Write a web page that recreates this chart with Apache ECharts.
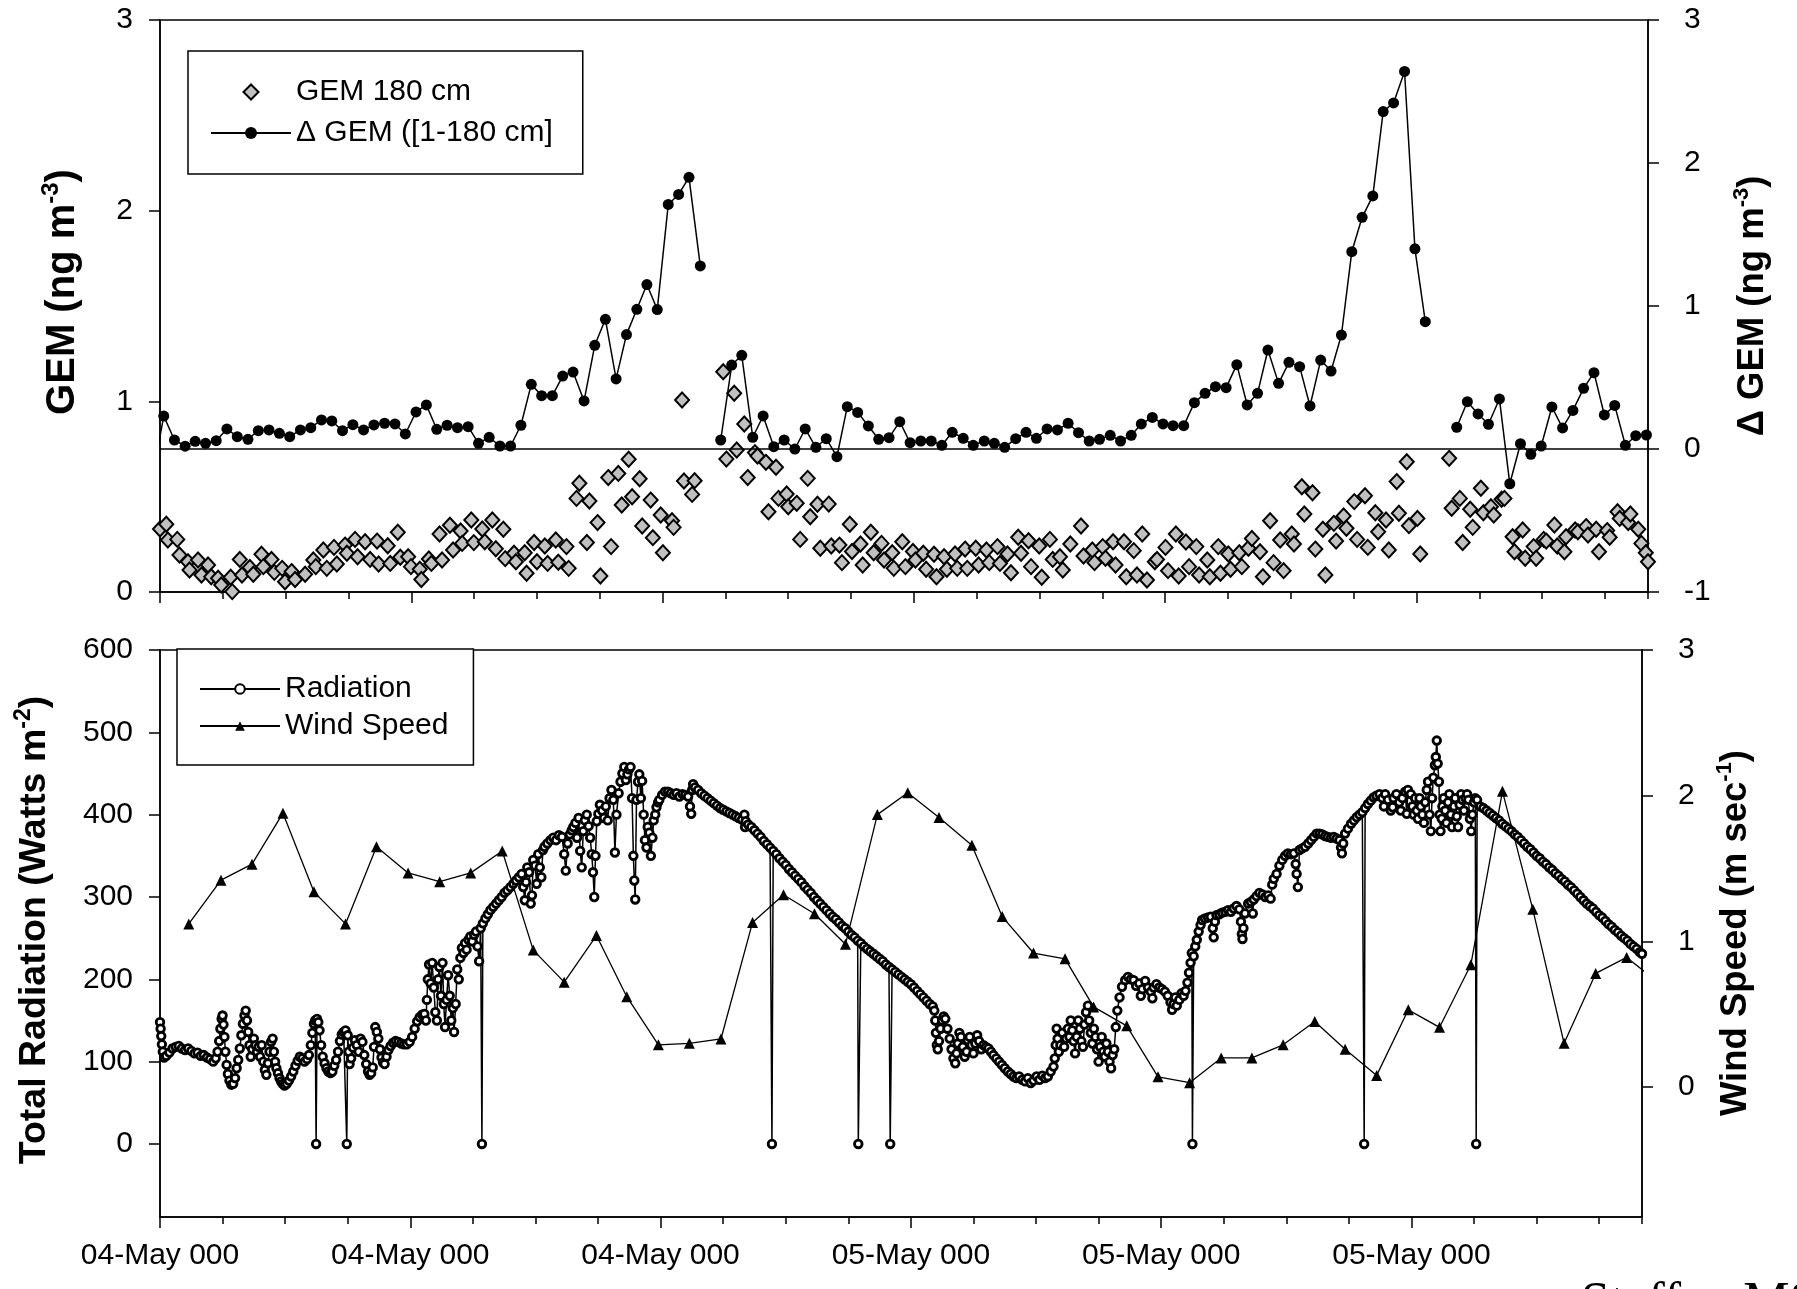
<!DOCTYPE html>
<html><head><meta charset="utf-8">
<script src="https://cdn.jsdelivr.net/npm/echarts@6/dist/echarts.min.js"></script>
<style>html,body{margin:0;padding:0;background:#fff}#c{width:1797px;height:1289px}</style>
</head><body><div id="c"></div><script>
const FONT = '"Liberation Sans", Arial, Helvetica, sans-serif';

// ---- axis ticks / labels ----
const xTickHours = [0, 8, 16, 24, 32, 40];
const xTickLabels = ['04-May 000', '04-May 000', '04-May 000', '05-May 000', '05-May 000', '05-May 000'];
const gemTicks = [0, 1, 2, 3];
const deltaTicks = [-1, 0, 1, 2, 3];
const radTicks = [0, 100, 200, 300, 400, 500, 600];
const windTicks = [0, 1, 2, 3];

// ---- series data: [hours since 04-May 00:00, value] ----
const gem180 = [
[0.0,0.33],[0.2,0.355],[0.25,0.273],[0.55,0.276],[0.62,0.194],[0.89,0.159],[0.94,0.115],[1.21,0.168],[1.32,0.089],[1.53,0.142],[1.63,0.08],[1.85,0.072],[1.95,0.037],[2.25,0.077],[2.3,0.002],[2.54,0.171],[2.61,0.089],[2.86,0.129],[2.97,0.093],[3.23,0.198],[3.29,0.133],[3.55,0.171],[3.64,0.103],[3.89,0.124],[3.98,0.054],[4.19,0.107],[4.3,0.066],[4.62,0.093],[4.88,0.168],[4.96,0.133],[5.2,0.22],[5.31,0.124],[5.54,0.234],[5.63,0.147],[5.89,0.246],[5.95,0.203],[6.21,0.276],[6.29,0.185],[6.53,0.264],[6.69,0.171],[6.91,0.267],[6.96,0.147],[7.25,0.243],[7.33,0.15],[7.57,0.313],[7.65,0.182],[7.9,0.185],[7.99,0.133],[8.27,0.119],[8.32,0.066],[8.56,0.173],[8.64,0.15],[8.9,0.304],[8.98,0.168],[9.23,0.35],[9.33,0.22],[9.57,0.32],[9.62,0.255],[9.91,0.378],[9.99,0.259],[10.26,0.33],[10.34,0.264],[10.58,0.378],[10.69,0.227],[10.93,0.329],[10.99,0.175],[11.27,0.203],[11.33,0.159],[11.61,0.206],[11.67,0.098],[11.91,0.26],[12.0,0.159],[12.25,0.241],[12.34,0.15],[12.6,0.273],[12.68,0.156],[12.94,0.238],[13.01,0.124],[13.26,0.491],[13.35,0.57],[13.59,0.26],[13.67,0.477],[13.93,0.364],[14.02,0.084],[14.27,0.6],[14.36,0.238],[14.59,0.622],[14.7,0.456],[14.92,0.696],[15.03,0.5],[15.27,0.594],[15.35,0.346],[15.62,0.482],[15.69,0.285],[15.94,0.404],[16.01,0.206],[16.3,0.374],[16.35,0.339],[16.62,1.007],[16.68,0.582],[16.94,0.512],[17.02,0.584],
[17.93,1.155],[18.03,0.697],[18.28,1.042],[18.36,0.745],[18.6,0.881],[18.71,0.6],[18.94,0.731],[19.02,0.713],[19.29,0.68],[19.37,0.421],[19.61,0.654],[19.69,0.491],[19.95,0.514],[20.0,0.447],[20.27,0.465],[20.38,0.276],[20.62,0.596],[20.7,0.395],[20.93,0.46],[21.02,0.229],[21.29,0.461],[21.37,0.241],[21.63,0.246],[21.71,0.154],[21.96,0.355],[22.03,0.212],[22.3,0.252],[22.37,0.142],[22.63,0.313],[22.72,0.206],[22.97,0.255],[23.05,0.168],[23.31,0.206],[23.36,0.124],[23.63,0.264],[23.73,0.133],[23.97,0.212],[24.05,0.168],[24.3,0.203],[24.39,0.119],[24.64,0.198],[24.72,0.08],[24.96,0.185],[25.05,0.119],[25.31,0.199],[25.38,0.124],[25.63,0.225],[25.7,0.124],[25.97,0.229],[26.06,0.142],[26.31,0.22],[26.4,0.154],[26.66,0.238],[26.74,0.15],[26.98,0.199],[27.09,0.101],[27.32,0.287],[27.41,0.203],[27.65,0.269],[27.73,0.133],[27.99,0.241],[28.07,0.077],[28.33,0.276],[28.42,0.171],[28.65,0.185],[28.74,0.115],[28.98,0.252],[29.32,0.346],[29.4,0.189],[29.68,0.22],[29.75,0.154],[30.01,0.238],[30.1,0.177],[30.34,0.264],[30.42,0.142],[30.69,0.264],[30.76,0.08],[31.0,0.217],[31.1,0.089],[31.27,0.304],
[31.42,0.063],[31.67,0.159],[31.74,0.171],[32.01,0.234],[32.09,0.112],[32.34,0.304],[32.43,0.084],[32.66,0.262],[32.76,0.133],[32.99,0.238],[33.08,0.089],[33.34,0.168],[33.42,0.08],[33.69,0.238],[33.76,0.098],[34.01,0.199],[34.08,0.119],[34.36,0.206],[34.44,0.133],[34.65,0.229],[34.76,0.281],[35.02,0.211],[35.11,0.08],[35.34,0.374],[35.45,0.154],[35.66,0.273],[35.77,0.112],[36.03,0.304],[36.1,0.252],[36.35,0.552],[36.43,0.409],[36.69,0.521],[36.78,0.225],[37.02,0.329],[37.1,0.089],[37.37,0.36],[37.44,0.267],[37.68,0.399],[37.77,0.334],[38.02,0.474],[38.11,0.276],[38.36,0.505],[38.45,0.234],[38.69,0.416],[38.78,0.316],[39.03,0.378],[39.12,0.22],[39.37,0.579],[39.44,0.413],[39.69,0.683],[39.76,0.348],[40.03,0.386],[40.12,0.199],
[41.04,0.701],[41.12,0.439],[41.38,0.491],[41.47,0.26],[41.71,0.434],[41.79,0.339],[42.05,0.544],[42.13,0.416],[42.37,0.447],[42.46,0.404],[42.71,0.486],[42.8,0.491],[43.06,0.29],[43.12,0.211],[43.38,0.325],[43.46,0.177],[43.73,0.238],[43.81,0.177],[44.05,0.276],[44.13,0.267],[44.39,0.351],[44.48,0.241],[44.71,0.211],[44.76,0.29],[45.05,0.325],[45.14,0.316],[45.4,0.343],[45.46,0.299],[45.72,0.329],[45.81,0.211],[46.07,0.322],[46.15,0.287],[46.4,0.421],[46.47,0.386],[46.74,0.364],[46.81,0.409],[47.06,0.329],[47.16,0.255],[47.3,0.206],[47.37,0.159]
];

const deltaGem = [
[-0.21,-0.16],[0.12,0.23],[0.46,0.063],[0.8,0.02],[1.12,0.054],[1.45,0.04],[1.79,0.058],[2.13,0.14],[2.46,0.086],[2.8,0.068],[3.13,0.128],[3.47,0.133],[3.8,0.11],[4.13,0.086],[4.47,0.133],[4.8,0.149],[5.14,0.203],[5.47,0.196],[5.81,0.128],[6.14,0.17],[6.48,0.133],[6.81,0.168],[7.15,0.18],[7.48,0.175],[7.81,0.105],[8.15,0.259],[8.48,0.308],[8.81,0.138],[9.14,0.166],[9.47,0.149],[9.81,0.156],[10.14,0.04],[10.48,0.082],[10.82,0.021],[11.16,0.021],[11.49,0.166],[11.82,0.452],[12.15,0.373],[12.49,0.373],[12.82,0.51],[13.15,0.538],[13.5,0.336],[13.84,0.725],[14.18,0.907],[14.52,0.49],[14.85,0.8],[15.18,0.977],[15.5,1.15],[15.83,0.975],[16.18,1.71],[16.51,1.78],[16.84,1.9],[17.2,1.28],
[17.5,null],
[17.85,0.063],[18.2,0.587],[18.52,0.655],[18.87,0.082],[19.2,0.231],[19.54,0.016],[19.87,0.063],[20.21,0.0],[20.54,0.14],[20.88,0.012],[21.21,0.072],[21.55,-0.054],[21.88,0.296],[22.21,0.256],[22.55,0.161],[22.88,0.068],[23.21,0.079],[23.55,0.191],[23.88,0.044],[24.22,0.056],[24.55,0.056],[24.89,0.026],[25.22,0.117],[25.57,0.075],[25.89,0.026],[26.24,0.056],[26.56,0.04],[26.89,0.012],[27.24,0.072],[27.57,0.117],[27.9,0.075],[28.24,0.14],[28.57,0.133],[28.91,0.18],[29.24,0.114],[29.58,0.056],[29.91,0.068],[30.25,0.096],[30.58,0.056],[30.92,0.096],[31.24,0.175],[31.59,0.221],[31.93,0.175],[32.25,0.163],[32.59,0.163],[32.93,0.324],[33.27,0.389],[33.6,0.436],[33.94,0.429],[34.28,0.59],[34.61,0.308],[34.94,0.389],[35.27,0.692],[35.61,0.459],[35.94,0.606],[36.28,0.576],[36.61,0.301],[36.95,0.622],[37.28,0.545],[37.61,0.797],[37.94,1.38],[38.27,1.62],[38.61,1.77],[38.94,2.36],[39.27,2.42],[39.62,2.64],[39.95,1.40],[40.28,0.89],
[40.8,null],
[41.28,0.152],[41.62,0.331],[41.96,0.245],[42.29,0.173],[42.64,0.35],[42.97,-0.243],[43.31,0.037],[43.64,-0.037],[43.97,0.021],[44.31,0.294],[44.65,0.147],[44.98,0.27],[45.32,0.424],[45.65,0.534],[45.98,0.238],[46.31,0.305],[46.65,0.026],[46.98,0.093],[47.32,0.098]
];

const radiation = [
[0.0,148],[0.02,140],[0.04,131],[0.06,121],[0.09,112],[0.13,105],[0.2,107],[0.3,111],[0.4,116],[0.5,118],[0.6,119],[0.7,116],[0.8,114],[0.9,116],[1.0,113],[1.1,110],[1.2,111],[1.3,107],[1.4,108],[1.5,105],[1.6,103],[1.7,100],[1.78,104],[1.84,112],[1.89,125],[1.93,140],[1.97,152],[2.0,156],[2.03,145],[2.06,130],[2.09,112],[2.13,96],[2.17,85],[2.22,77],[2.28,72],[2.34,73],[2.4,80],[2.45,92],
[2.5,102],[2.55,116],[2.6,132],[2.65,146],[2.7,156],[2.74,162],[2.78,150],[2.82,136],[2.86,120],[2.9,106],[2.95,115],[3.0,128],[3.05,120],[3.1,112],[3.15,118],[3.2,106],[3.25,120],[3.3,100],[3.35,90],[3.4,84],[3.45,98],[3.5,112],[3.55,124],[3.6,128],[3.64,112],[3.68,100],[3.72,92],[3.77,86],[3.82,80],[3.87,76],[3.92,73],[3.98,71],[4.05,73],[4.12,77],[4.19,82],[4.26,88],[4.33,95],[4.4,101],[4.47,106],
[4.55,104],[4.62,100],[4.7,103],[4.76,108],[4.82,120],[4.87,135],[4.92,146],[4.96,150],[4.99,0],[5.02,152],[5.06,148],[5.1,138],[5.15,120],[5.2,106],[5.26,98],[5.32,92],[5.38,88],[5.45,86],[5.51,88],[5.57,95],[5.63,102],[5.69,112],[5.75,125],[5.81,133],[5.87,136],[5.93,138],[5.97,0],[6.0,132],[6.03,112],[6.06,97],[6.11,104],[6.17,117],[6.23,126],[6.29,120],[6.35,112],[6.41,128],[6.47,124],[6.53,108],[6.59,97],[6.65,88],[6.7,84],[6.75,86],[6.8,93],[6.84,118],[6.88,142],[6.93,136],[6.98,128],[7.03,115],[7.08,105],[7.13,99],[7.18,97],[7.24,106],[7.3,114],[7.37,119],[7.45,123],[7.53,125],[7.62,124],[7.71,122],[7.8,121],[7.89,121],[7.98,124],[8.06,130],[8.14,140],[8.22,149],[8.3,154],[8.38,157],[8.45,158],
[8.5,150],[8.53,175],[8.56,200],[8.6,218],[8.65,195],[8.7,220],[8.75,190],[8.8,160],[8.85,150],[8.89,200],[8.93,215],[8.98,180],[9.03,220],[9.07,170],[9.11,142],[9.16,175],[9.21,205],[9.26,180],[9.31,150],[9.36,165],[9.4,136],[9.45,170],[9.5,212],[9.55,200],[9.6,226],[9.65,238],[9.7,232],[9.75,244],[9.8,236],[9.86,248],[9.92,252],[9.98,246],[10.04,254],[10.1,258],[10.15,240],[10.2,222],[10.25,262],[10.29,0],[10.32,268],[10.4,274],[10.48,279],[10.56,284],[10.65,288],
[10.74,292],[10.83,296],[10.92,300],[11.01,305],[11.1,308],[11.2,312],[11.29,316],[11.38,320],[11.47,324],[11.56,328],[11.61,312],[11.66,296],[11.7,318],[11.74,336],[11.8,330],[11.85,292],[11.89,302],[11.93,345],[11.99,338],[12.04,316],[12.09,352],[12.14,336],[12.19,324],[12.24,357],[12.29,361],[12.38,365],[12.48,369],[12.57,372],[12.66,369],[12.75,375],[12.85,373],[12.92,352],[12.97,332],[13.03,365],[13.1,376],[13.16,381],[13.21,385],[13.28,390],[13.33,372],[13.38,396],[13.43,356],[13.48,336],[13.53,380],[13.58,393],[13.64,400],[13.7,386],[13.75,372],[13.8,352],[13.84,330],[13.88,300],[13.92,350],[13.96,392],[14.01,401],[14.06,412],[14.13,405],[14.19,396],[14.25,410],[14.31,393],[14.37,420],[14.43,430],[14.49,418],[14.54,354],[14.59,400],[14.66,426],[14.72,440],[14.78,450],[14.84,458],[14.89,442],[14.94,449],[14.99,455],[15.04,458],[15.09,420],[15.13,350],[15.16,320],[15.19,297],[15.23,418],[15.28,440],[15.32,449],[15.37,420],[15.41,441],[15.46,400],[15.5,369],[15.55,360],[15.59,385],[15.64,378],[15.69,350],[15.74,372],[15.78,393],[15.83,400],[15.87,409],[15.92,415],[15.96,418],[16.05,424],[16.14,428],[16.24,428],[16.33,426],[16.42,424],[16.51,426],[16.6,422],[16.7,425],[16.79,424],[16.88,422],[16.94,410],[16.98,401],[17.01,430],[17.04,437],
[17.1,433],[17.2,430],[17.3,426],[17.4,423],[17.5,420],[17.6,417],[17.7,414],[17.8,411],[17.9,408],[18.0,406],[18.1,404],[18.2,402],[18.3,400],[18.4,398],[18.5,396],[18.6,394],[18.68,400],[18.7,385],[18.72,392],[18.8,388],[18.9,385],[19.0,381],[19.1,377],[19.2,373],[19.3,368],[19.4,364],[19.5,360],[19.56,0],[19.6,356],[19.7,352],[19.8,347],[19.9,343],[20.0,339],[20.1,334],[20.2,330],[20.3,326],[20.4,322],[20.5,318],[20.6,313],[20.7,309],[20.8,305],[20.9,300],[21.0,296],[21.1,292],[21.2,288],[21.3,284],[21.4,280],[21.5,276],[21.6,273],[21.7,269],[21.8,265],[21.9,262],[22.0,258],[22.1,254],[22.2,251],[22.3,247],[22.32,0],[22.4,244],[22.5,240],[22.6,237],[22.7,234],[22.8,231],[22.9,228],[23.0,225],[23.1,222],[23.2,218],[23.3,215],[23.34,0],[23.4,212],[23.5,209],[23.6,206],[23.7,203],[23.8,200],[23.9,197],[24.0,194],[24.1,190],[24.2,186],[24.3,182],[24.4,178],[24.5,174],[24.6,170],[24.7,167],
[24.75,162],[24.78,150],[24.8,135],[24.83,120],[24.86,115],[24.9,125],[24.95,140],[25.0,150],[25.05,155],[25.1,152],[25.17,140],[25.24,128],[25.3,115],[25.36,104],[25.42,98],[25.46,110],[25.5,122],[25.55,135],[25.6,130],[25.66,118],[25.72,106],[25.78,112],[25.82,126],[25.88,130],[25.94,120],[26.0,110],[26.06,122],[26.12,132],[26.18,125],[26.25,115],[26.32,120],[26.4,118],[26.48,116],[26.56,112],[26.64,108],[26.73,104],[26.82,100],[26.91,96],[27.0,92],[27.1,88],[27.19,85],[27.28,82],[27.37,80],[27.46,82],[27.56,78],[27.65,76],[27.74,80],[27.83,74],[27.92,77],[28.02,82],[28.11,78],[28.2,83],[28.29,80],[28.38,82],[28.47,88],[28.56,94],[28.6,104],[28.63,120],[28.66,140],[28.69,128],[28.73,112],[28.78,120],[28.84,135],[28.9,118],[28.96,128],[29.02,140],[29.07,130],[29.11,150],[29.16,138],[29.2,125],[29.25,110],[29.3,130],[29.35,150],[29.4,140],[29.45,125],[29.5,118],[29.55,145],[29.6,160],[29.66,168],[29.7,150],[29.75,135],[29.8,122],[29.85,140],[29.9,130],[29.95,115],[30.0,100],[30.05,118],[30.1,130],[30.15,112],[30.2,106],[30.25,122],[30.3,112],[30.35,100],[30.4,92],[30.45,108],[30.5,115],[30.55,142],[30.6,162],[30.67,178],
[30.75,191],[30.85,199],[30.94,203],[31.03,200],[31.12,199],[31.2,192],[31.3,195],[31.35,180],[31.4,188],[31.49,198],[31.58,190],[31.67,185],[31.72,177],[31.76,190],[31.85,194],[31.94,190],[32.03,188],[32.12,185],[32.21,180],[32.3,172],[32.35,163],[32.4,170],[32.45,178],[32.5,168],[32.58,175],[32.65,183],[32.72,180],[32.78,186],[32.84,196],[32.89,208],[32.94,220],[32.98,232],[33.0,0],[33.04,228],[33.09,240],[33.14,248],[33.2,258],[33.26,266],[33.31,272],
[33.4,274],[33.5,275],[33.59,276],[33.65,262],[33.68,251],[33.72,270],[33.77,278],[33.86,279],[33.95,281],[34.05,282],[34.14,284],[34.23,282],[34.32,286],[34.41,289],[34.5,285],[34.55,270],[34.58,255],[34.6,249],[34.63,262],[34.68,280],[34.78,292],[34.87,294],[34.93,280],[34.96,297],[35.05,301],[35.14,305],[35.24,303],[35.33,300],[35.42,302],[35.5,298],[35.55,315],[35.6,322],[35.69,328],[35.78,338],[35.87,345],[35.96,350],[36.05,353],[36.15,352],[36.24,353],[36.3,340],[36.33,328],[36.37,312],[36.42,357],[36.51,359],[36.6,361],[36.7,365],[36.79,369],[36.88,373],[36.97,377],[37.06,377],[37.15,376],[37.24,374],[37.33,373],[37.43,372],[37.52,373],[37.61,371],[37.7,369],[37.75,360],[37.78,353],[37.82,365],[37.88,377],[37.97,383],[38.07,389],[38.16,393],[38.25,397],[38.34,400],[38.43,403],[38.49,0],[38.52,408],[38.61,413],[38.7,417],[38.79,421],[38.88,423],[38.98,425],[39.07,420],[39.12,410],[39.16,425],[39.25,418],[39.34,405],[39.4,409],[39.43,420],[39.52,425],[39.61,415],[39.66,405],[39.71,420],[39.8,428],[39.85,401],[39.89,430],[39.98,425],[40.03,410],[40.07,400],[40.12,420],[40.17,405],[40.21,395],[40.26,420],[40.3,410],[40.35,400],[40.4,390],[40.44,415],[40.49,430],[40.53,440],[40.58,400],[40.62,380],[40.66,420],[40.7,445],[40.75,460],[40.78,470],[40.81,490],[40.84,462],[40.88,440],[40.9,400],[40.93,380],[40.97,395],[40.99,410],[41.03,420],[41.08,405],[41.12,390],[41.17,415],[41.21,425],[41.26,400],[41.3,385],[41.36,410],[41.4,420],[41.45,398],[41.49,385],[41.54,412],[41.59,425],[41.63,418],[41.68,405],[41.73,420],[41.78,425],[41.82,418],[41.87,395],[41.91,380],[41.95,400],[42.0,415],[42.04,420],[42.07,0],[42.1,418],
[42.2,410],[42.3,408],[42.4,405],[42.5,402],[42.6,399],[42.7,396],[42.8,393],[42.9,389],[43.0,386],[43.1,383],[43.2,380],[43.3,376],[43.4,373],[43.5,369],[43.6,365],[43.7,361],[43.8,358],[43.9,354],[44.0,350],[44.1,347],[44.2,343],[44.3,340],[44.4,336],[44.5,333],[44.6,329],[44.7,326],[44.8,322],[44.9,319],[45.0,315],[45.1,312],[45.2,308],[45.3,304],[45.4,300],[45.5,296],[45.6,292],[45.7,289],[45.8,286],[45.9,282],[46.0,278],[46.1,275],[46.2,271],[46.3,267],[46.4,264],[46.5,260],[46.6,257],[46.7,253],[46.8,250],[46.9,247],[47.0,243],[47.1,240],[47.2,237],[47.3,233],[47.37,231]
];

const windSpeed = [
[0.92,1.12],[1.95,1.42],[2.94,1.53],[3.93,1.88],[4.92,1.34],[5.93,1.12],[6.92,1.65],[7.93,1.47],[8.94,1.41],[9.93,1.47],[10.94,1.62],[11.93,0.94],[12.92,0.72],[13.95,1.04],[14.92,0.62],[15.93,0.29],[16.92,0.30],[17.93,0.33],[18.94,1.13],[19.93,1.32],[20.92,1.19],[21.91,0.98],[22.93,1.87],[23.9,2.02],[24.9,1.85],[25.95,1.66],[26.92,1.17],[27.92,0.92],[28.93,0.88],[29.84,0.55],[30.9,0.42],[31.9,0.07],[32.91,0.03],[33.92,0.20],[34.9,0.20],[35.9,0.29],[36.91,0.45],[37.88,0.26],[38.89,0.08],[39.9,0.53],[40.9,0.41],[41.9,0.84],[42.91,2.03],[43.88,1.22],[44.88,0.30],[45.89,0.78],[46.88,0.89],[47.88,0.72]
];

// ---- chart ----
const X_MAX = 47.37;
const black = '#000';
const lineW = 1.5;
const tickLabel = { color: black, fontSize: 30, fontFamily: FONT };

function xAxisPair(gridIndex, withLabels) {
  return [
    { type: 'value', gridIndex, min: 0, max: X_MAX, interval: 2, position: 'bottom',
      axisLine: { show: true, onZero: false, lineStyle: { color: black, width: lineW } },
      axisTick: { show: true, length: 7, lineStyle: { color: black, width: lineW } },
      axisLabel: { show: false }, splitLine: { show: false } },
    { type: 'value', gridIndex, min: 0, max: X_MAX, position: 'bottom',
      axisLine: { show: false, onZero: false },
      axisTick: { show: true, length: 11, customValues: xTickHours, lineStyle: { color: black, width: lineW } },
      axisLabel: withLabels ? Object.assign({ show: true, margin: 24, customValues: xTickHours,
        formatter: v => xTickLabels[xTickHours.indexOf(v)] || '' }, tickLabel) : { show: false },
      splitLine: { show: false } }
  ];
}

function yAxisDef(gridIndex, position, min, max, ticks, margin) {
  return { type: 'value', gridIndex, position, min, max,
    axisLine: { show: true, onZero: false, lineStyle: { color: black, width: lineW } },
    axisTick: { show: true, length: 11, inside: false, customValues: ticks, lineStyle: { color: black, width: lineW } },
    axisLabel: Object.assign({ show: true, margin, customValues: ticks }, tickLabel),
    splitLine: { show: false } };
}

function titleRich(size) {
  return {
    b: { fontSize: size, fontWeight: 'bold', fontFamily: FONT, fill: black, lineHeight: size + 8 },
    s: { fontSize: Math.round(size * 0.6), fontWeight: 'bold', fontFamily: FONT, fill: black, verticalAlign: 'top', lineHeight: Math.round(size * 0.6) }
  };
}
function vTitle(x, y, text, size) {
  return { type: 'text', x, y, rotation: Math.PI / 2, silent: true,
    style: { text, rich: titleRich(size), align: 'center', verticalAlign: 'middle', fill: black,
      fontSize: size, fontWeight: 'bold', fontFamily: FONT } };
}

const option = {
  animation: false,
  backgroundColor: '#fff',
  grid: [
    { left: 160, top: 20, width: 1488, height: 572, show: true, borderColor: black, borderWidth: lineW, backgroundColor: 'transparent' },
    { left: 160, top: 650, width: 1482, height: 567, show: true, borderColor: black, borderWidth: lineW, backgroundColor: 'transparent' }
  ],
  xAxis: [].concat(xAxisPair(0, false), xAxisPair(1, true)),
  yAxis: [
    yAxisDef(0, 'left', 0, 3, gemTicks, 27),
    yAxisDef(0, 'right', -1, 3, deltaTicks, 36),
    yAxisDef(1, 'left', -88.7, 600, radTicks, 27),
    yAxisDef(1, 'right', -0.892, 3, windTicks, 36)
  ],
  legend: [
    { data: [{ name: 'GEM 180 cm', icon: 'path://M0,-10L10,0L0,10L-10,0Z' }, 'Δ GEM ([1-180 cm]'],
      orient: 'vertical', left: 188, top: 51, symbolKeepAspect: true,
      padding: [26, 30, 26, 22], itemWidth: 80, itemHeight: 15, itemGap: 11, selectedMode: false,
      borderColor: black, borderWidth: lineW, borderRadius: 0, backgroundColor: '#fff',
      textStyle: { color: black, fontSize: 30, fontFamily: FONT, lineHeight: 30 } },
    { data: ['Radiation', 'Wind Speed'], orient: 'vertical', left: 177, top: 649,
      padding: [25, 25, 24, 22], itemWidth: 80, itemHeight: 12, itemGap: 7, selectedMode: false,
      borderColor: black, borderWidth: lineW, borderRadius: 0, backgroundColor: '#fff',
      textStyle: { color: black, fontSize: 30, fontFamily: FONT, lineHeight: 30 } }
  ],
  series: [
    { name: 'GEM 180 cm', type: 'scatter', xAxisIndex: 0, yAxisIndex: 0, data: gem180,
      symbol: 'diamond', symbolSize: [14, 15], z: 2,
      itemStyle: { color: '#c0c0c0', borderColor: black, borderWidth: 2, opacity: 1 } },
    { name: 'Δ GEM ([1-180 cm]', type: 'line', xAxisIndex: 0, yAxisIndex: 1, data: deltaGem,
      symbol: 'circle', symbolSize: 11, connectNulls: false, z: 3,
      itemStyle: { color: black }, lineStyle: { color: black, width: lineW },
      markLine: { silent: true, symbol: ['none', 'none'], label: { show: false },
        lineStyle: { color: black, width: lineW, type: 'solid' }, data: [{ yAxis: 0 }] } },
    { name: 'Radiation', type: 'line', xAxisIndex: 2, yAxisIndex: 2, data: radiation,
      symbol: 'circle', symbolSize: 7.6, z: 3,
      itemStyle: { color: '#fff', borderColor: black, borderWidth: 2.8 },
      lineStyle: { color: black, width: lineW } },
    { name: 'Wind Speed', type: 'line', xAxisIndex: 2, yAxisIndex: 3, data: windSpeed,
      symbol: 'triangle', symbolSize: 11, z: 4,
      itemStyle: { color: black }, lineStyle: { color: black, width: 1.3 } }
  ],
  graphic: [
    vTitle(63, 292, '{b|GEM (ng m}{s|-3}{b|)}', 40),
    vTitle(35, 930, '{b|Total Radiation (Watts m}{s|-2}{b|)}', 37.5),
    vTitle(1753, 306, '{b|Δ GEM (ng m}{s|-3}{b|)}', 36.5),
    vTitle(1736, 933, '{b|Wind Speed (m sec}{s|-1}{b|)}', 36.5),
    { type: 'text', x: 1581, y: 1278, silent: true,
      style: { text: 'Steffen MS', fontSize: 52, fontFamily: '"Liberation Serif", "Times New Roman", serif', fill: black, align: 'left', verticalAlign: 'top' } }
  ]
};

const chart = echarts.init(document.getElementById('c'), null, { renderer: 'canvas' });
chart.setOption(option);
</script></body></html>
